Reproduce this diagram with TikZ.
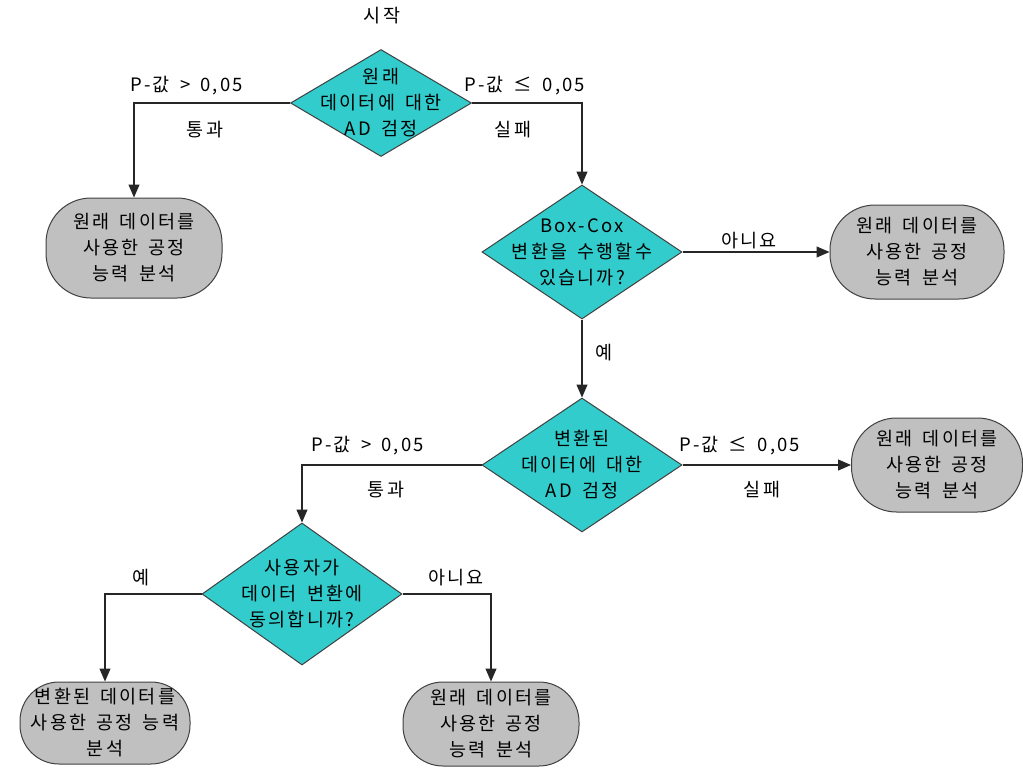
\documentclass[tikz,border=0pt]{standalone}
\usepackage{fontspec}
\setmainfont[LetterSpace=12, WordSpace=1.6]{Noto Sans CJK KR}
\usetikzlibrary{shapes.geometric, arrows.meta}
\definecolor{decfill}{RGB}{51,204,204}
\definecolor{endfill}{RGB}{192,192,192}
\tikzset{>={Triangle[length=13pt,width=11pt]}}
\tikzset{
  decision/.style={diamond, draw=black!75, fill=decfill, line width=1pt, align=center, inner sep=-40pt},
  result/.style={rectangle, draw=black!75, fill=endfill, line width=1pt, align=center, inner sep=-30pt, rounded corners=#1},
  result/.default=45pt,
  lbl/.style={inner sep=0pt},
  flow/.style={draw=black!85, line width=1.1pt}
}

\begin{document}
\begin{tikzpicture}[x=1pt, y=-1pt, font=\fontsize{18.5}{26}\selectfont]
\useasboundingbox (0,0) rectangle (1023,771);
\node[lbl] (start) at (382,16) {시작};
% decisions
\node[decision, minimum width=181pt, minimum height=107pt] (adorig) at (381,103) {원래\\데이터에 대한\\AD 검정};
\node[decision, minimum width=200pt, minimum height=134pt] (boxcox) at (582,252) {Box-Cox\\변환을 수행할수\\있습니까?};
\node[decision, minimum width=200pt, minimum height=134pt] (adtrans) at (582,465) {변환된\\데이터에 대한\\AD 검정};
\node[decision, minimum width=200pt, minimum height=142pt] (agree) at (302,594) {사용자가\\데이터 변환에\\동의합니까?};
% results
\node[result, minimum width=176pt, minimum height=100pt] (orig1) at (134,248) {원래 데이터를\\사용한 공정\\능력 분석};
\node[result, minimum width=174pt, minimum height=94pt] (orig2) at (917,252) {원래 데이터를\\사용한 공정\\능력 분석};
\node[result, minimum width=171pt, minimum height=94pt] (orig3) at (937,465) {원래 데이터를\\사용한 공정\\능력 분석};
\node[result=39pt, minimum width=170pt, minimum height=82pt] (trans) at (105,723) {변환된 데이터를\\사용한 공정 능력\\분석};
\node[result=40pt, minimum width=176pt, minimum height=84pt] (orig4) at (491,724) {원래 데이터를\\사용한 공정\\능력 분석};
% connectors
\draw[flow, ->] (adorig.west) -| (orig1.north);
\draw[flow, ->] (adorig.east) -| (boxcox.north);
\draw[flow, ->] (boxcox.east) -- (orig2.west);
\draw[flow, ->] (boxcox.south) -- (adtrans.north);
\draw[flow, ->] (adtrans.east) -- (orig3.west);
\draw[flow, ->] (adtrans.west) -| (agree.north);
\draw[flow, ->] (agree.west) -| (trans.north);
\draw[flow, ->] (agree.east) -| (orig4.north);
% labels
\node[lbl] (pass1) at (187,86) {P-값 > 0,05};
\node[lbl] (passok1) at (205,130) {통과};
\node[lbl] (fail1) at (525,86) {P-값 ≤ 0,05};
\node[lbl] (failok1) at (513,130) {실패};
\node[lbl] (no1) at (749,241) {아니요};
\node[lbl] (yes1) at (604,353) {예};
\node[lbl] (fail2) at (740,446) {P-값 ≤ 0,05};
\node[lbl] (failok2) at (762,490) {실패};
\node[lbl] (pass2) at (368,446) {P-값 > 0,05};
\node[lbl] (passok2) at (386,490) {통과};
\node[lbl] (yes2) at (141,578) {예};
\node[lbl] (no2) at (456,578) {아니요};
\end{tikzpicture}
\end{document}
